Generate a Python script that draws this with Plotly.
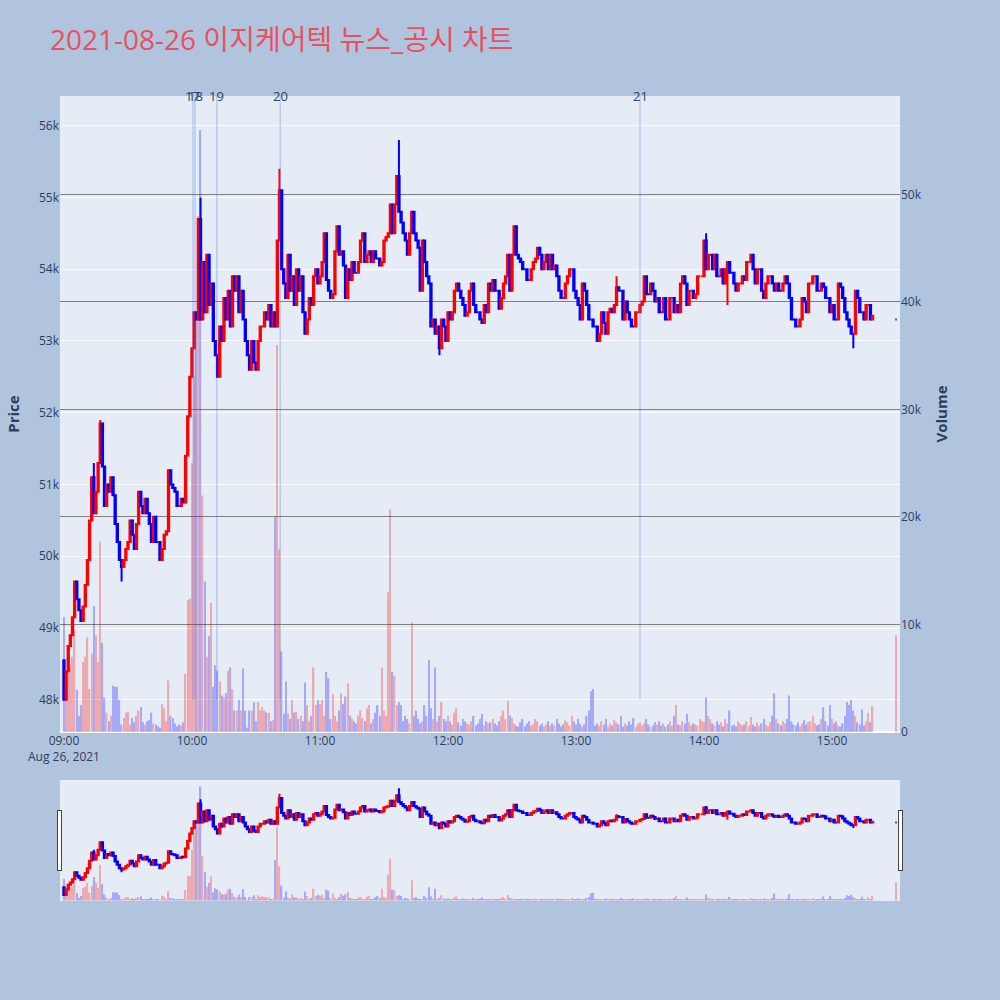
import plotly.graph_objects as go
from plotly.subplots import make_subplots
import pandas as pd

title = "2021-08-26 이지케어텍 뉴스_공시 차트"

# minute closes from 09:00, open of each bar = previous close
first_open = 48550
closes = [
    48000, 48400, 48750, 48900, 49150, 49650, 49400, 49250, 49100, 49300,
    49600, 49950, 50500, 51100, 50600, 50900, 51300, 51850, 51250, 50700,
    51000, 50900, 51100, 50850, 50450, 50200, 49950, 49850, 49950, 50100,
    50200, 50500, 50300, 50100, 50450, 50900, 50700, 50600, 50800, 50600,
    50450, 50200, 50550, 50200, 50200, 49950, 50100, 50300, 50350, 51200,
    51000, 50950, 50900, 50700, 50700, 50800, 50750, 51400, 51950, 52500,
    52900, 53400, 53300, 54700, 53300, 54100, 53400, 54200, 53500, 53800,
    53000, 52800, 52500, 53200, 53000, 53600, 53300, 53700, 53200, 53900,
    53700, 53900, 53400, 53700, 53300, 53000, 52800, 52600, 53000, 52700,
    52600, 53000, 53200, 53200, 53400, 53300, 53500, 53200, 53400, 53200,
    54400, 55100, 54000, 53800, 53600, 54200, 53700, 53900, 53500, 54000,
    53700, 53900, 53400, 53100, 53300, 53600, 53500, 53900, 54000, 53800,
    53900, 54100, 54500, 53850, 53700, 53600, 53650, 54250, 54600, 54200,
    54250, 54050, 53600, 54000, 53850, 54100, 53950, 53950, 54100, 54400,
    54500, 54100, 54200, 54250, 54100, 54250, 54150, 54150, 54050, 54100,
    54400, 54450, 54500, 54900, 54500, 54900, 55300, 54800, 54650, 54500,
    54400, 54200, 54500, 54800, 54500, 54400, 54300, 53700, 54400, 54100,
    53900, 53800, 53200, 53300, 53100, 53200, 52900, 53300, 53200, 53000,
    53400, 53300, 53400, 53700, 53800, 53700, 53600, 53500, 53350, 53400,
    53700, 53800, 53500, 53400, 53400, 53300, 53250, 53500, 53400, 53800,
    53700, 53850, 53700, 53700, 53450, 53600, 53800, 53900, 54200, 53700,
    54200, 54600, 54200, 54150, 54100, 54000, 54000, 53850, 53850, 54000,
    54100, 54150, 54300, 54200, 54000, 54100, 54200, 54000, 54200, 54000,
    54050, 53900, 53700, 53600, 53600, 53800, 53900, 54000, 54000, 53700,
    53600, 53500, 53300, 53800, 53700, 53500, 53300, 53300, 53200, 53200,
    53000, 53100, 53400, 53250, 53100, 53400, 53450, 53400, 53500, 53750,
    53700, 53700, 53300, 53550, 53400, 53300, 53200, 53200, 53400, 53400,
    53500, 53550, 53900, 53650, 53650, 53800, 53700, 53550, 53600, 53400,
    53400, 53600, 53300, 53300, 53600, 53600, 53400, 53500, 53400, 53800,
    53900, 53800, 53500, 53700, 53700, 53600, 53650, 53900, 53900, 53900,
    54400, 54000, 54200, 54200, 54000, 54200, 53900, 53900, 54000, 53800,
    54000, 54100, 53950, 53950, 53800, 53700, 53800, 53800, 53900, 53850,
    54100, 54100, 54200, 54000, 53800, 54000, 54000, 53700, 53600, 53800,
    53900, 53900, 53800, 53700, 53800, 53700, 53700, 53800, 53900, 53800,
    53600, 53300, 53300, 53200, 53200, 53300, 53600, 53550, 53400, 53800,
    53800, 53900, 53900, 53700, 53700, 53800, 53750, 53600, 53600, 53400,
    53500, 53300, 53300, 53800, 53750, 53600, 53400, 53300, 53200, 53100,
    53100, 53700, 53600, 53400, 53400, 53300, 53500, 53500, 53300, 53350,
]
volumes = [
    10700, 3900, 6100, 6300, 7000, 9500, 3900, 1500, 2500, 6500,
    7000, 8800, 4000, 7300, 11700, 9000, 6500, 17700, 8300, 3200,
    1800, 1000, 1500, 4300, 4200, 4200, 3000, 700, 1300, 1800,
    1900, 700, 1300, 900, 1500, 2000, 2300, 900, 700, 1000,
    1100, 1800, 800, 700, 500, 400, 2600, 2200, 1000, 4800,
    1500, 1300, 800, 500, 700, 600, 900, 5400, 12300, 12400,
    25000, 33000, 39000, 48000, 56000, 22000, 14000, 7000, 8900, 12000,
    4200, 6200, 5700, 4700, 3400, 3200, 3600, 5700, 6000, 4000,
    2000, 2000, 3000, 2000, 5900, 2000, 400, 2000, 2000, 2800,
    1000, 2800, 2000, 2300, 2000, 1800, 1800, 1000, 1100, 20000,
    36000, 17000, 7500, 1700, 4700, 1700, 1200, 3000, 1800, 1900,
    1200, 1500, 1000, 4600, 2500, 1000, 1500, 6000, 2500, 3000,
    2600, 3000, 1500, 5600, 5000, 1200, 3500, 1500, 1000, 2000,
    3600, 2600, 3300, 4500, 1500, 1200, 1000, 800, 1500, 2000,
    1300, 1000, 2200, 2500, 800, 1200, 1800, 2500, 1500, 6000,
    2000, 1500, 13000, 20700, 5600, 5200, 2500, 2800, 2500, 1000,
    1500, 1200, 800, 10200, 1500, 2000, 1200, 800, 1000, 2500,
    1500, 6700, 2200, 1200, 6000, 1000, 1500, 2800, 1200, 1000,
    1500, 1000, 700, 1800, 2200, 900, 600, 1200, 1000, 800,
    700, 1000, 1500, 600, 800, 1200, 1700, 600, 1000, 800,
    900, 1200, 800, 600, 1000, 1500, 2000, 1200, 2900, 1500,
    1300, 800, 600, 500, 900, 1200, 500, 800, 1000, 600,
    700, 1200, 1000, 600, 800, 500, 700, 1000, 600, 800,
    600, 1200, 800, 500, 700, 1100, 900, 600, 1500, 1000,
    700, 1200, 800, 500, 700, 1500, 2000, 3800, 4000, 600,
    800, 600, 1000, 700, 1200, 500, 800, 600, 1100, 900,
    700, 1500, 500, 800, 600, 1000, 700, 1300, 500, 800,
    900, 600, 800, 1200, 700, 500, 600, 900, 700, 1000,
    600, 800, 500, 700, 1000, 600, 1500, 2500, 700, 600,
    1000, 800, 1700, 900, 600, 800, 700, 600, 1200, 1000,
    900, 3200, 1500, 1200, 800, 600, 1000, 700, 900, 500,
    1200, 800, 2000, 600, 700, 500, 1000, 800, 600, 700,
    1000, 600, 1400, 700, 500, 900, 600, 800, 1200, 700,
    500, 900, 1500, 3600, 1200, 800, 600, 1000, 800, 1200,
    3400, 1000, 700, 600, 900, 500, 800, 1100, 700, 900,
    1000, 1500, 800, 600, 700, 1200, 2300, 1000, 600, 2500,
    1200, 800, 1000, 600, 500, 800, 1500, 2800, 2500, 3000,
    2000, 1500, 900, 700, 2100, 600, 1000, 1800, 900, 2400,
]
# wicks that stick out of the bodies (minute index -> price)
high_wicks = {14: 51300, 17: 51900, 64: 55000, 101: 55400, 157: 55800,
              211: 54600, 259: 53900, 301: 54500}
low_wicks = {27: 49650, 176: 52800, 311: 53500, 370: 52900}

# closing auction
auction_time = "2021-08-26 15:30"
auction_price = 53300
auction_volume = 9000

news_labels = ["17", "18", "19", "20", "21"]
news_times = ["2021-08-26 10:00:28", "2021-08-26 10:01:25", "2021-08-26 10:11:40",
              "2021-08-26 10:41:20", "2021-08-26 13:30:00"]

times = list(pd.date_range("2021-08-26 09:00", periods=len(closes), freq="min"))
times.append(pd.Timestamp(auction_time))
opens = [first_open] + closes[:-1] + [auction_price]
cl = closes + [auction_price]
vol = volumes + [auction_volume]
highs = [max(o, c) for o, c in zip(opens, cl)]
lows = [min(o, c) for o, c in zip(opens, cl)]
for k, v in high_wicks.items():
    highs[k] = v
for k, v in low_wicks.items():
    lows[k] = v

bar_colors = []
for i in range(len(cl)):
    if cl[i] > opens[i]:
        bar_colors.append("red")
    elif cl[i] < opens[i]:
        bar_colors.append("blue")
    else:
        bar_colors.append(bar_colors[-1] if bar_colors else "red")

fig = make_subplots(specs=[[{"secondary_y": True}]])
fig.add_trace(go.Bar(x=times, y=vol, marker_color=bar_colors, marker_line_width=0,
                     opacity=0.28, name="Volume"), secondary_y=True)
fig.add_trace(go.Candlestick(x=times, open=opens, high=highs, low=lows, close=cl,
                             increasing_line_color="red", increasing_fillcolor="red",
                             decreasing_line_color="blue", decreasing_fillcolor="blue",
                             name="Price"), secondary_y=False)

for t, lab in zip(news_times, news_labels):
    fig.add_shape(type="line", xref="x", yref="y", x0=t, x1=t, y0=min(lows), y1=56413,
                  line=dict(color="rgba(65,105,225,0.4)", width=1))
    fig.add_annotation(x=t, y=1, xref="x", yref="paper", yanchor="middle", text=lab,
                       showarrow=False, font=dict(size=13, color="#2a3f5f"))

fig.update_layout(
    width=1000, height=1000,
    paper_bgcolor="lightsteelblue",
    font=dict(family="Open Sans, Noto Sans CJK KR"),
    title=dict(text=title, x=0.05, y=0.96, yanchor="middle",
               font=dict(size=28, color="#E9505F")),
    showlegend=False,
    margin=dict(l=60, r=100, t=96, b=100),
    bargap=0.35,
    boxgap=0.1,
)
fig.update_xaxes(domain=[0, 1], range=["2021-08-26 08:58:08", "2021-08-26 15:31:52"],
                 rangeslider=dict(visible=True))
fig.update_yaxes(title_text="Price", title_font=dict(size=15, weight="bold"),
                 range=[47552, 56413], dtick=1000, automargin=False, secondary_y=False)
fig.update_yaxes(title_text="Volume", title_font=dict(size=15, weight="bold"),
                 range=[0, 59160], dtick=10000, showgrid=True, gridcolor="grey",
                 automargin=False, secondary_y=True)

fig.write_html("out.html", config={"displayModeBar": False},
               post_script="document.body.style.margin='0';")
